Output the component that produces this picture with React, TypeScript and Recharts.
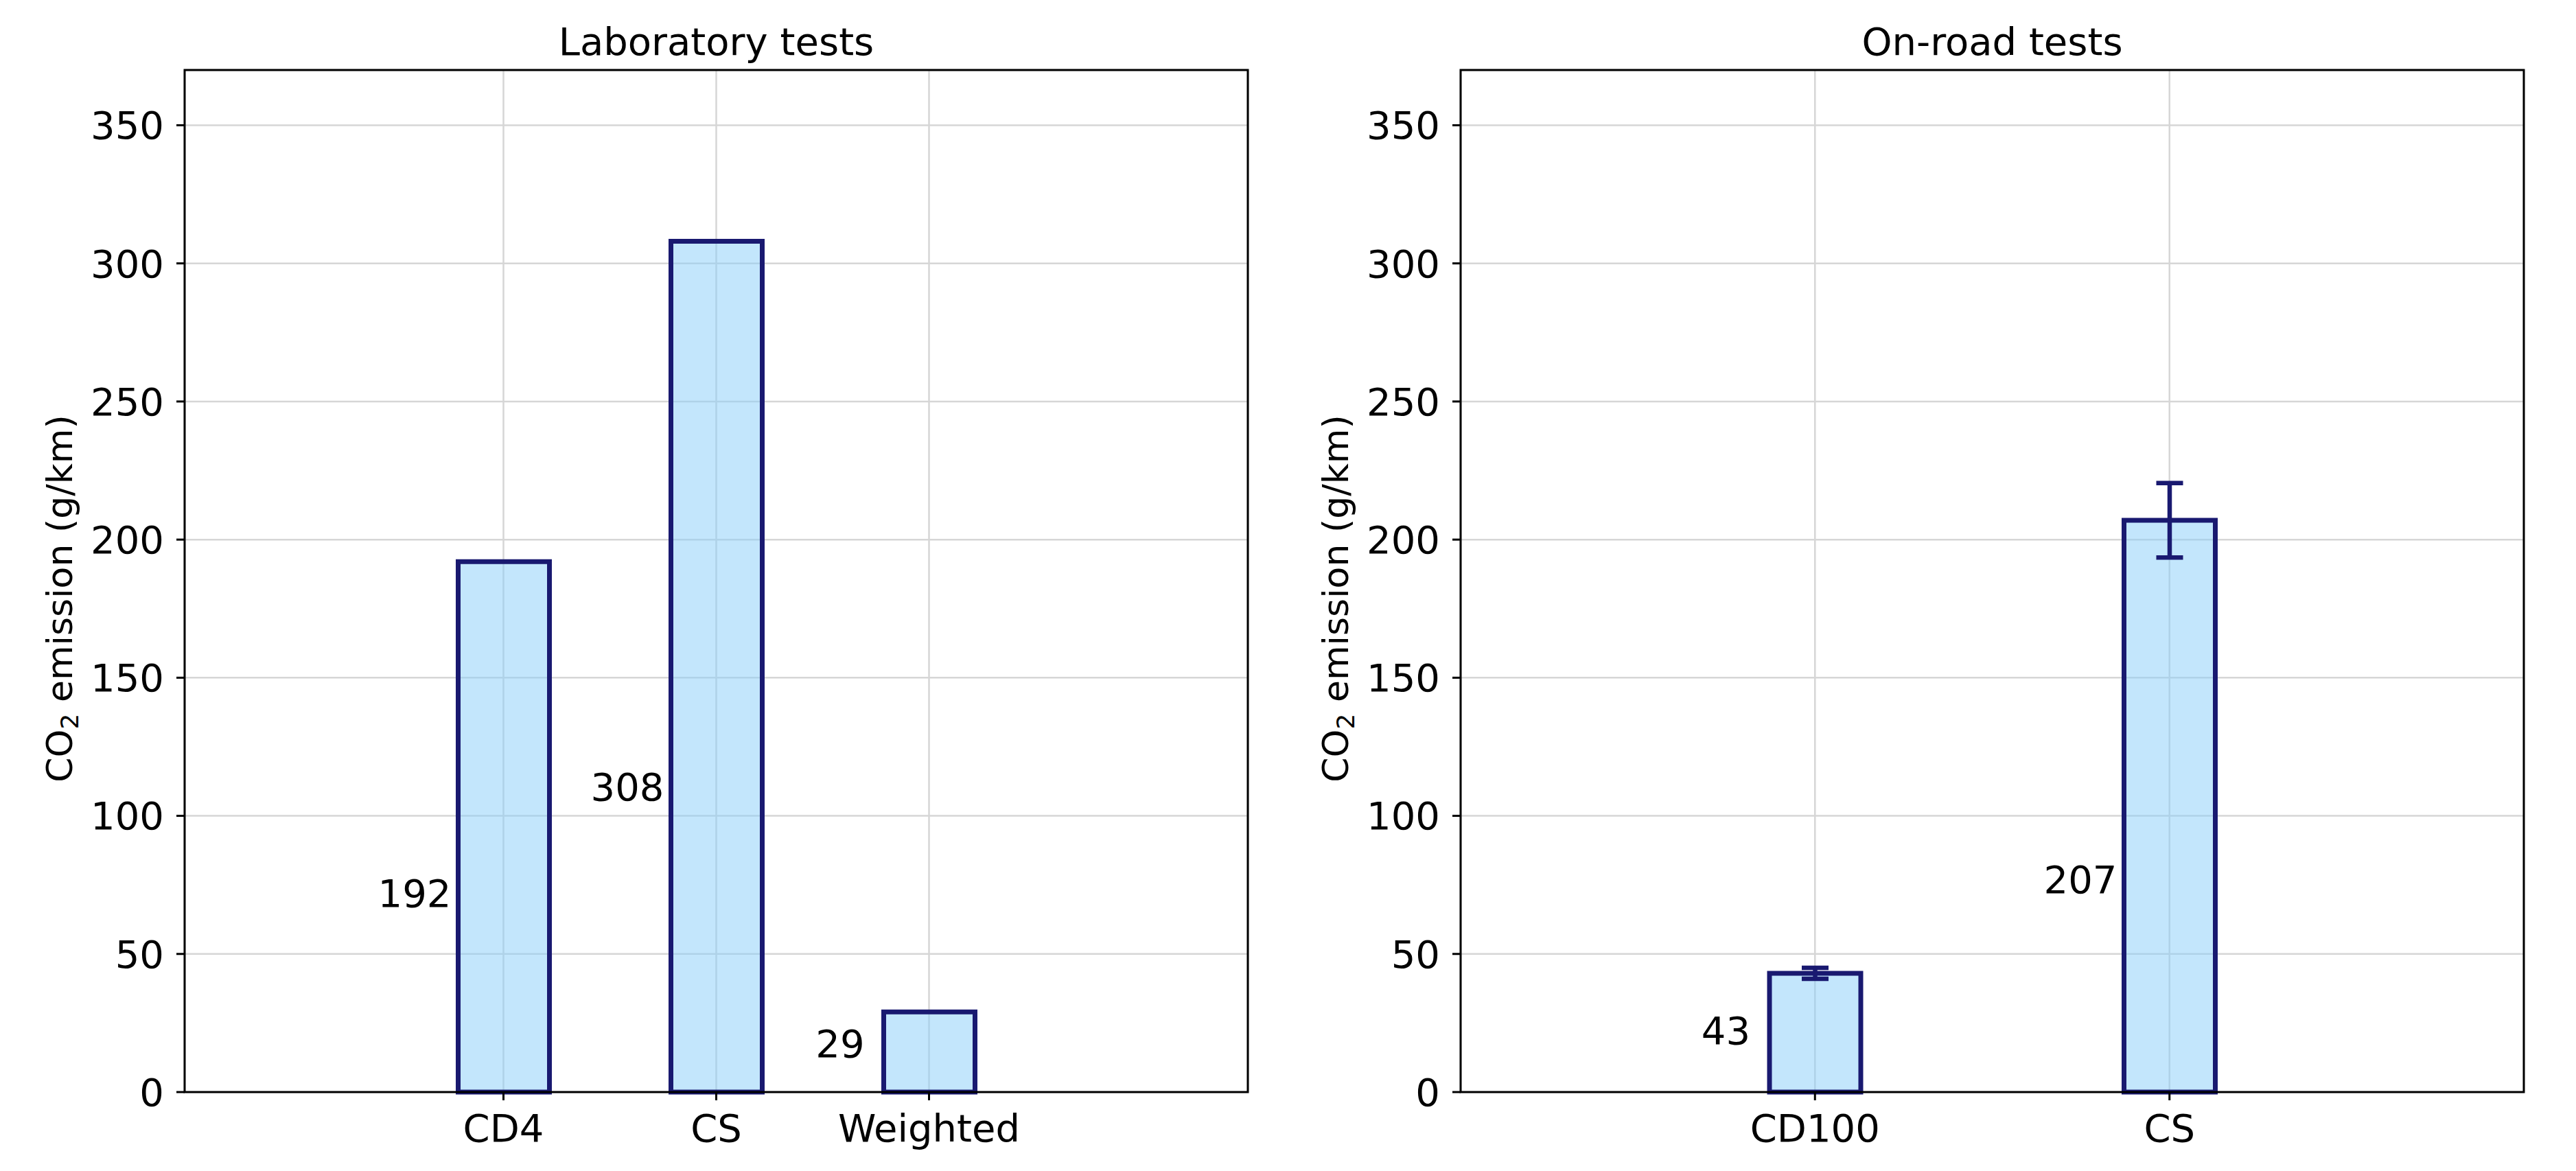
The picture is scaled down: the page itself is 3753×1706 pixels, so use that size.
import { BarChart, Bar, XAxis, YAxis, CartesianGrid, ErrorBar, LabelList } from "recharts";

// Laboratory tests
const labCategories = ["CD4", "CS", "Weighted"];
const labValues = [192, 308, 29];

// On-road tests (mean ± spread)
const roadCategories = ["CD100", "CS"];
const roadValues = [43, 207];
const roadErrors = [2, 13.5];

const yTicks = [0, 50, 100, 150, 200, 250, 300, 350];
const yDomain: [number, number] = [0, 370];
const panelTitles = ["Laboratory tests", "On-road tests"];

const FONT = "DejaVu Sans";
const FIG_W = 3753;
const FIG_H = 1706;
const PLOT_TOP = 102;
const PLOT_BOTTOM = 1591;
const PLOT_W = 1549;
const FS = 56;
const YLABEL_FS = 52;

const BAR_FILL = "#87cefa";
const BAR_EDGE = "#191970";

const renderValueLabel = (props: any) => {
  const vb = props.viewBox ?? props;
  const x = Number(vb.x);
  const y = Number(vb.y);
  const w = Number(vb.width);
  const h = Number(vb.height);
  const cx = x + w / 2 - 130;
  const cy = y + (h * 2) / 3 - 32;
  return (
    <text x={cx} y={cy + 20} textAnchor="middle" fontFamily={FONT} fontSize={FS} fill="#000">
      {props.value}
    </text>
  );
};

interface PanelProps {
  categories: string[];
  values: number[];
  errors?: number[];
  left: number;
  width: number;
  plotLeft: number;
  xPad: number;
}

function Panel({ categories, values, errors, left, width, plotLeft, xPad }: PanelProps) {
  const data = categories.map((name, i) => ({
    name,
    value: values[i],
    err: errors ? errors[i] : 0,
  }));
  const yAxisWidth = plotLeft - left;
  const rightMargin = width - yAxisWidth - PLOT_W;

  return (
    <div style={{ position: "absolute", left, top: 0, width, height: FIG_H }}>
      <BarChart
        width={width}
        height={FIG_H}
        data={data}
        margin={{ top: PLOT_TOP, right: rightMargin, bottom: 0, left: 0 }}
      >
        <CartesianGrid stroke="#d6d6d6" strokeWidth={2.5} />
        <XAxis
          dataKey="name"
          height={FIG_H - PLOT_BOTTOM}
          padding={{ left: xPad, right: xPad }}
          axisLine={false}
          tickLine={{ stroke: "#000", strokeWidth: 3 }}
          tickSize={12}
          tickMargin={20}
          interval={0}
          tick={{ fill: "#000", fontSize: FS, fontFamily: FONT }}
        />
        <YAxis
          width={yAxisWidth}
          domain={yDomain}
          ticks={yTicks}
          axisLine={false}
          tickLine={{ stroke: "#000", strokeWidth: 3 }}
          tickSize={12}
          tickMargin={18}
          tick={{ fill: "#000", fontSize: FS, fontFamily: FONT }}
        />
        <Bar
          dataKey="value"
          barSize={133}
          fill={BAR_FILL}
          fillOpacity={0.5}
          stroke={BAR_EDGE}
          strokeWidth={7}
          isAnimationActive={false}
        >
          {errors && (
            <ErrorBar
              dataKey="err"
              direction="y"
              width={19.5}
              strokeWidth={6.5}
              stroke={BAR_EDGE}
              isAnimationActive={false}
            />
          )}
          <LabelList dataKey="value" content={renderValueLabel} />
        </Bar>
      </BarChart>
    </div>
  );
}

const plotLefts = [269, 2128];

export default function App() {
  return (
    <div style={{ position: "absolute", left: 0, top: 0, width: FIG_W, height: FIG_H, background: "#fff" }}>
      <Panel categories={labCategories} values={labValues} left={0} width={1870} plotLeft={plotLefts[0]} xPad={309.5} />
      <Panel
        categories={roadCategories}
        values={roadValues}
        errors={roadErrors}
        left={1870}
        width={1883}
        plotLeft={plotLefts[1]}
        xPad={258}
      />
      <svg
        width={FIG_W}
        height={FIG_H}
        style={{ position: "absolute", left: 0, top: 0, pointerEvents: "none" }}
      >
        {plotLefts.map((pl, i) => (
          <g key={pl}>
            <rect
              x={pl}
              y={PLOT_TOP}
              width={PLOT_W}
              height={PLOT_BOTTOM - PLOT_TOP}
              fill="none"
              stroke="#000"
              strokeWidth={3}
            />
            <text
              x={pl + PLOT_W / 2}
              y={80}
              textAnchor="middle"
              fontFamily={FONT}
              fontSize={FS}
              fill="#000"
            >
              {panelTitles[i]}
            </text>
            <text
              transform={`translate(${pl - 164}, 872) rotate(-90)`}
              textAnchor="middle"
              fontFamily={FONT}
              fontSize={YLABEL_FS}
              fill="#000"
            >
              CO
              <tspan fontSize={36} dy={9}>2</tspan>
              <tspan dy={-9}> emission (g/km)</tspan>
            </text>
          </g>
        ))}
      </svg>
    </div>
  );
}
